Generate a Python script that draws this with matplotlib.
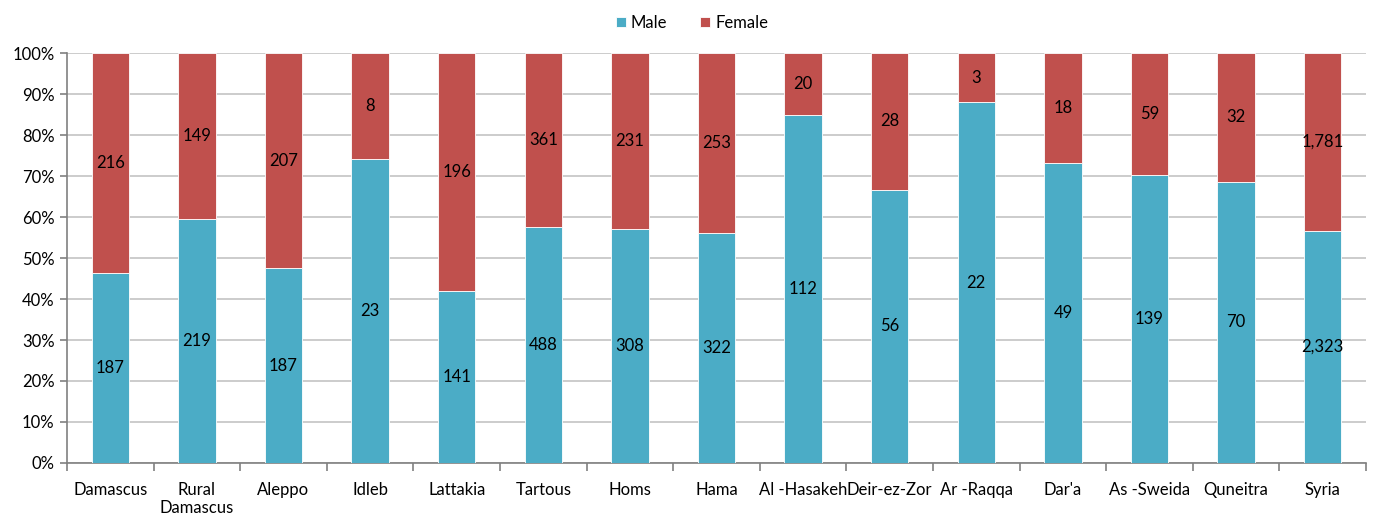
import numpy as np
import matplotlib.pyplot as plt
from matplotlib.ticker import FixedLocator, PercentFormatter

plt.rcParams['font.family'] = ['Lato', 'DejaVu Sans']

regions = ["Damascus", "Rural\nDamascus", "Aleppo", "Idleb", "Lattakia", "Tartous",
           "Homs", "Hama", "Al -Hasakeh", "Deir-ez-Zor", "Ar -Raqqa", "Dar'a",
           "As -Sweida", "Quneitra", "Syria"]
male = [187, 219, 187, 23, 141, 488, 308, 322, 112, 56, 22, 49, 139, 70, 2323]
female = [216, 149, 207, 8, 196, 361, 231, 253, 20, 28, 3, 18, 59, 32, 1781]

male_c = "#4BACC6"
female_c = "#C0504D"

m = np.array(male, dtype=float)
f = np.array(female, dtype=float)
tot = m + f
mp = m / tot * 100
fp = f / tot * 100
x = np.arange(len(regions))

fig = plt.figure(figsize=(13.84, 5.15), dpi=100)
ax = fig.add_axes([0.0484, 0.101, 0.9386, 0.796])

w = 0.43
ax.bar(x, mp, w, color=male_c, edgecolor="white", linewidth=0.6, label="Male", zorder=3)
ax.bar(x, fp, w, bottom=mp, color=female_c, edgecolor="white", linewidth=0.6,
       label="Female", zorder=3)

for i in range(len(x)):
    ax.text(x[i], mp[i] / 2, f"{male[i]:,}", ha="center", va="center", fontsize=12, zorder=4)
    ax.text(x[i], mp[i] + fp[i] / 2, f"{female[i]:,}", ha="center", va="center",
            fontsize=12, zorder=4)

ax.set_xlim(-0.5, len(x) - 0.5)
ax.set_ylim(0, 100)
ax.set_yticks(np.arange(0, 101, 10))
ax.yaxis.set_major_formatter(PercentFormatter(decimals=0))
ax.grid(axis="y", color="#C4C4C4", linewidth=1.2, zorder=0)
ax.set_xticks(x)
ax.set_xticklabels(regions, fontsize=12, va="top", linespacing=1.1)
ax.tick_params(axis="x", length=0, pad=14)
ax.xaxis.set_minor_locator(FixedLocator(np.arange(-0.5, len(x), 1)))
ax.tick_params(axis="x", which="minor", length=6, color="#808080", width=1.2)
ax.tick_params(axis="y", length=5, color="#808080", width=1.2, labelsize=12, pad=4)

for s in ["top", "right"]:
    ax.spines[s].set_visible(False)
for s in ["left", "bottom"]:
    ax.spines[s].set_color("#808080")
    ax.spines[s].set_linewidth(1.2)

fig.legend(loc="upper center", bbox_to_anchor=(0.5, 1.0), ncol=2, frameon=False,
           fontsize=12, handlelength=0.6, handleheight=0.6, handletextpad=0.3,
           columnspacing=2.0)

fig.savefig("out.png", dpi=100)
